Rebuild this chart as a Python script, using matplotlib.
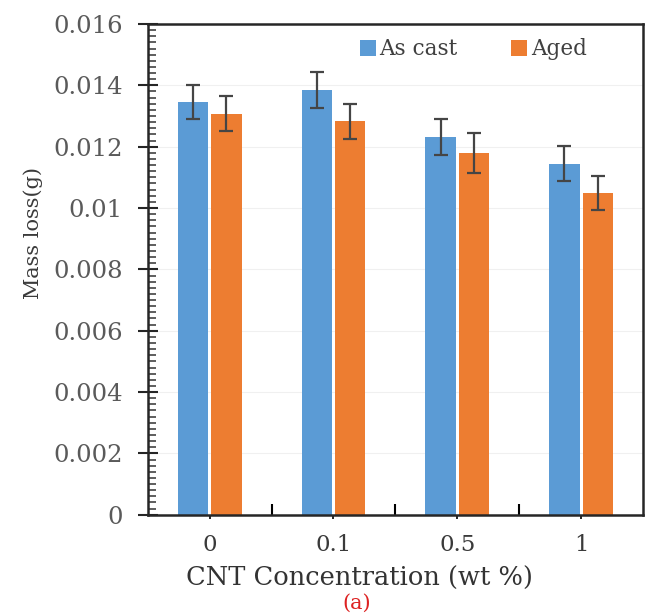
import matplotlib
matplotlib.use("Agg")
import matplotlib.pyplot as plt
import numpy as np
from matplotlib.ticker import MultipleLocator, FixedLocator

categories = ["0", "0.1", "0.5", "1"]
as_cast = [0.01345, 0.01385, 0.01232, 0.01145]
aged = [0.01308, 0.01283, 0.01180, 0.01050]
as_cast_err = [0.00055, 0.00058, 0.00058, 0.00056]
aged_err = [0.00057, 0.00057, 0.00065, 0.00056]
yticks = [0, 0.002, 0.004, 0.006, 0.008, 0.01, 0.012, 0.014, 0.016]
ytick_labels = ["0", "0.002", "0.004", "0.006", "0.008", "0.01", "0.012", "0.014", "0.016"]

plt.rcParams['font.family'] = ['DejaVu Serif', 'Liberation Serif']

fig = plt.figure(figsize=(6.45, 6.15), dpi=100)
ax = fig.add_axes([0.229, 0.163, 0.768, 0.798])

x = np.arange(len(categories))
w = 0.245
off = 0.135
blue = "#5B9BD5"
orange = "#ED7D31"
ecolor = "#454545"
ekw = dict(ecolor=ecolor, elinewidth=1.6, capsize=4.7, capthick=1.6)
ax.bar(x - off, as_cast, w, color=blue, label="As cast", zorder=2,
       yerr=as_cast_err, error_kw=ekw)
ax.bar(x + off, aged, w, color=orange, label="Aged", zorder=2,
       yerr=aged_err, error_kw=ekw)

ax.set_xlim(-0.5, len(categories) - 0.5)
ax.set_ylim(0, 0.016)
ax.set_yticks(yticks)
ax.set_yticklabels(ytick_labels)
ax.yaxis.set_minor_locator(MultipleLocator(0.0002))
ax.set_xticks(x)
ax.set_xticklabels(categories)
ax.xaxis.set_minor_locator(FixedLocator([0.5, 1.5, 2.5]))

ax.grid(axis='y', color="#f0f0f0", lw=0.8, zorder=0)
ax.set_axisbelow(True)

for s in ax.spines.values():
    s.set_color("#262626")
    s.set_linewidth(1.8)

ax.tick_params(axis='y', which='major', direction='inout', length=14, width=1.5,
               labelsize=17.5, labelcolor="#5a5a5a", color="#262626", pad=11)
ax.tick_params(axis='y', which='minor', direction='in', length=6, width=1.1, color="#333333")
ax.tick_params(axis='x', which='major', direction='out', length=3, width=1.2,
               labelsize=16.5, labelcolor="#3a3a3a", pad=11)
ax.tick_params(axis='x', which='minor', direction='in', length=8, width=1.5)

ax.set_ylabel("Mass loss(g)", fontsize=15, color="#3a3a3a")
ax.yaxis.set_label_coords(-0.212, 0.575)
ax.set_xlabel("CNT Concentration (wt %)", fontsize=18.5, color="#333333")
ax.xaxis.set_label_coords(0.428, -0.105)

leg = ax.legend(loc="upper right", bbox_to_anchor=(0.925, 1.01), ncol=2, frameon=False,
                fontsize=15.5, handlelength=0.75, handleheight=0.75, handletextpad=0.15,
                columnspacing=2.5, labelcolor="#404040")

fig.text(0.553, 0.003, "(a)", color="#dd2222", fontsize=15, ha="center", va="bottom")

fig.savefig("out.png", dpi=100)
